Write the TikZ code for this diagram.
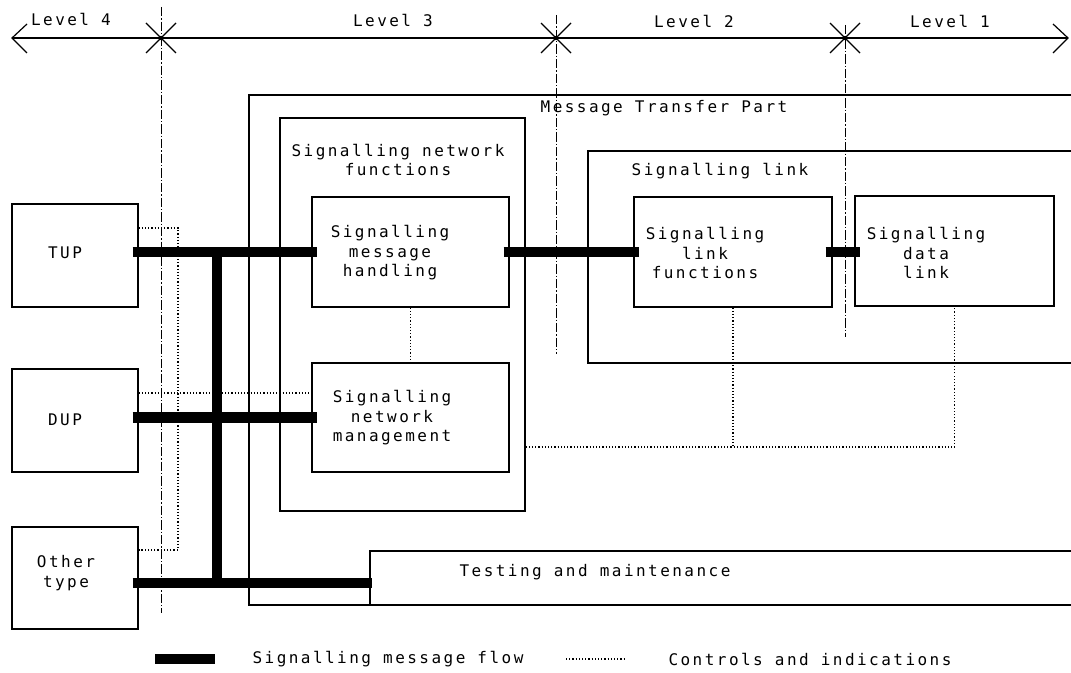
\documentclass[tikz,border=0pt]{standalone}
\usepackage{fontspec}
\newfontfamily\plotfont[LetterSpace=15.4]{DejaVu Sans Mono}
\usetikzlibrary{calc,fit}
\begin{document}
\begin{tikzpicture}[x=0.75pt,y=-0.75pt,
  box/.style={draw, line width=0.9pt, inner sep=0pt},
  lbl/.style={inner sep=0pt, align=center, font=\plotfont\fontsize{12}{14.6}\selectfont},
  flow/.style={line width=8.2pt, line cap=butt},
  bus/.style={line width=7.5pt, line cap=butt},
  ctrl/.style={line width=0.9pt, dash pattern=on 0.9pt off 1.5pt},
  lev/.style={line width=0.7pt, dash pattern=on 7pt off 1.5pt on 1pt off 1.5pt},
  axis/.style={line width=0.9pt}]
\useasboundingbox (0,0) rectangle (1071,673);
\clip (0,0) rectangle (1071,673);

% level axis
\coordinate (aL) at (12,38);
\coordinate (aR) at (1068,38);
\draw[axis] (aL) -- (aR);
\draw[axis] ($(aL)+(15,-14)$) -- (aL) -- ($(aL)+(15,15)$);
\draw[axis] ($(aR)+(-15,-14)$) -- (aR) -- ($(aR)+(-15,15)$);
\coordinate (x1) at (161,38);
\coordinate (x2) at (556,38);
\coordinate (x3) at (845,38);
\foreach \p in {x1,x2,x3}{
  \draw[axis] ($(\p)+(-15,-15)$) -- ($(\p)+(15,15)$);
  \draw[axis] ($(\p)+(-15,15)$) -- ($(\p)+(15,-15)$);
  \fill (\p) circle (1.6pt);
}
\node[lbl] (lv4) at (71,19) {Level 4};
\node[lbl] (lv3) at (393,20) {Level 3};
\node[lbl] (lv2) at (694,21) {Level 2};
\node[lbl] (lv1) at (950,21) {Level 1};

% level boundaries
\coordinate (v1t) at (161,7);   \coordinate (v1b) at (161,613);
\coordinate (v2t) at (556,15);  \coordinate (v2b) at (556,354);
\coordinate (v3t) at (845,25);  \coordinate (v3b) at (845,337);
\draw[lev] (v1t) -- (v1b);
\draw[lev] (v2t) -- (v2b);
\draw[lev] (v3t) -- (v3b);

% boxes
\node[box, fit={(12,204) (138,307)}] (tup) {};
\node[box, fit={(12,369) (138,472)}] (dup) {};
\node[box, fit={(12,527) (138,629)}] (oth) {};
\node[box, fit={(249,95) (1095,605)}] (mtp) {};
\node[box, fit={(280,118) (525,511)}] (snf) {};
\node[box, fit={(312,197) (509,307)}] (smh) {};
\node[box, fit={(312,363) (509,472)}] (snm) {};
\node[box, fit={(588,151) (1095,363)}] (sl) {};
\node[box, fit={(634,197) (832,307)}] (slf) {};
\node[box, fit={(855,196) (1054,306)}] (sdl) {};
\node[box, fit={(370,551) (1095,605)}] (tm) {};

% labels
\node[lbl] (tupL) at (65,253) {TUP};
\node[lbl] (dupL) at (65,420) {DUP};
\node[lbl] (othL) at (66,573) {Other\\type};
\node[lbl] (mtpL) at (664,108) {Message Transfer Part};
\node[lbl] (snfL) at (398,160) {Signalling network\\functions};
\node[lbl] (smhL) at (390,253) {Signalling\\message\\handling};
\node[lbl] (snmL) at (392,418) {Signalling\\network\\management};
\node[lbl] (slL) at (720,171) {Signalling link};
\node[lbl] (slfL) at (705,253) {Signalling\\link\\functions};
\node[lbl] (sdlL) at (926,253) {Signalling\\data\\link};
\node[lbl] (tmL) at (595,572) {Testing and maintenance};

% controls and indications
\coordinate (t1) at (178,228);
\coordinate (t2) at (178,550);
\draw[ctrl] (tup.east |- t1) -- (t1) -- (t2) -- (oth.east |- t2);
\coordinate (d1) at (0,393);
\draw[ctrl] (dup.east |- d1) -- (snm.west |- d1);
\draw[ctrl] (smh.south) -- (snm.north);
\coordinate (h1) at (0,447);
\draw[ctrl] (snf.east |- h1) -- (sdl.south |- h1) -- (sdl.south);
\draw[ctrl] (slf.south) -- (slf.south |- h1);

% signalling message flow
\coordinate (o1) at (0,583);
\coordinate (bx) at (217,0);
\draw[flow] ($(tup.east |- smh.west)+(-6,0)$) -- ($(smh.west)+(6,0)$);
\draw[flow] ($(dup.east |- snm.west)+(-6,0)$) -- ($(snm.west)+(6,0)$);
\draw[flow] ($(oth.east |- o1)+(-6,0)$) -- ($(tm.west |- o1)+(3,0)$);
\draw[bus] (bx |- smh.west) -- (bx |- o1);
\draw[flow] ($(smh.east)+(-6,0)$) -- ($(slf.west)+(6,0)$);
\draw[flow] ($(slf.east)+(-7,0)$) -- ($(sdl.west |- slf.east)+(6,0)$);

% legend
\coordinate (lb1) at (155,659);
\coordinate (lb2) at (215,659);
\draw[flow] (lb1) -- (lb2);
\node[lbl] (lg1) at (388,659) {Signalling message flow};
\coordinate (ld1) at (566,659);
\coordinate (ld2) at (625,659);
\draw[ctrl] (ld1) -- (ld2);
\node[lbl] (lg2) at (810,659) {Controls and indications};
\end{tikzpicture}
\end{document}
